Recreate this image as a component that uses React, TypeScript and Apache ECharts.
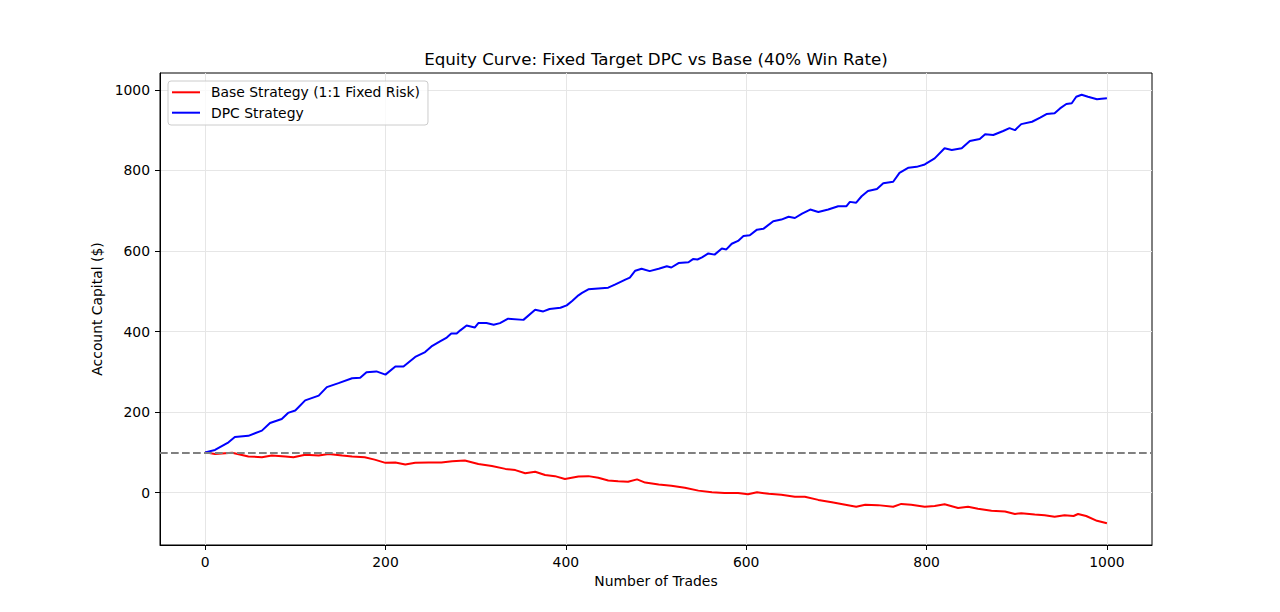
import React, { useEffect, useRef } from "react";
import * as echarts from "echarts";

const chartTitle = "Equity Curve: Fixed Target DPC vs Base (40% Win Rate)";
const xAxisTitle = "Number of Trades";
const yAxisTitle = "Account Capital ($)";
const baseName = "Base Strategy (1:1 Fixed Risk)";
const dpcName = "DPC Strategy";

const xTicks = [0, 200, 400, 600, 800, 1000];
const yTicks = [0, 200, 400, 600, 800, 1000];
const startingCapital = 100;

const baseTrades = [
  0, 11, 30, 48, 63, 74, 89, 98, 111, 126, 137, 152, 163, 177, 188, 200, 211, 222, 233, 248,
  262, 274, 288, 303, 318, 333, 344, 355, 366, 377, 388, 399, 414, 425, 436, 447, 458, 469, 479, 488,
  503, 517, 532, 547, 562, 576, 591, 602, 612, 625, 639, 654, 665, 680, 695, 710, 722, 732, 746, 763,
  772, 783, 798, 809, 820, 835, 846, 857, 872, 887, 898, 905, 920, 931, 942, 953, 963, 968, 977, 989,
  1000,
];
const baseValues = [
  100, 96, 99, 90, 88, 92, 90, 88, 94, 92, 96, 92, 90, 88, 82, 74, 75, 70, 74, 75,
  75, 78, 80, 71, 66, 59, 56, 48, 52, 44, 41, 34, 40, 41, 37, 30, 28, 27, 33, 25,
  20, 17, 12, 5, 1, -1, -1, -4, 1, -3, -5, -10, -10, -18, -24, -30, -35, -30, -31, -35,
  -28, -30, -35, -33, -29, -38, -35, -40, -45, -47, -53, -51, -54, -56, -60, -56, -58, -53, -58, -70,
  -76,
];

const dpcTrades = [
  0, 11, 26, 33, 48, 63, 72, 85, 92, 100, 111, 126, 135, 148, 163, 172, 179, 190, 200, 211,
  220, 233, 244, 251, 261, 268, 273, 279, 283, 290, 299, 303, 312, 320, 327, 336, 353, 366, 375, 382,
  394, 401, 407, 414, 418, 425, 436, 447, 455, 466, 471, 477, 484, 493, 503, 512, 517, 525, 536, 541,
  546, 551, 558, 565, 573, 578, 584, 591, 597, 604, 612, 619, 630, 639, 647, 654, 662, 671, 680, 691,
  702, 711, 715, 722, 728, 735, 745, 752, 763, 770, 780, 789, 798, 809, 820, 828, 839, 848, 859, 865,
  874, 885, 892, 898, 905, 917, 926, 933, 942, 948, 955, 961, 966, 972, 979, 989, 994, 1000,
];
const dpcValues = [
  100, 106, 125, 138, 141, 154, 173, 183, 198, 204, 229, 241, 262, 272, 284, 285, 299, 301, 293, 313,
  313, 337, 349, 363, 376, 385, 395, 395, 403, 415, 410, 421, 421, 417, 421, 432, 429, 454, 450, 456,
  459, 465, 476, 490, 496, 505, 507, 509, 517, 529, 534, 551, 556, 550, 556, 562, 559, 570, 572, 580,
  579, 584, 594, 591, 606, 604, 618, 625, 637, 639, 653, 655, 674, 678, 685, 682, 693, 703, 697, 703,
  711, 711, 722, 720, 736, 749, 754, 768, 772, 794, 807, 809, 815, 830, 855, 851, 855, 873, 878, 890,
  888, 898, 905, 900, 915, 921, 931, 940, 942, 954, 965, 967, 983, 988, 983, 977, 978, 979,
];

const FONT = "DejaVu Sans";
const LINE_ICON = "path://M0,0 L28,0 L28,2 L0,2 Z";

export default function App() {
  const ref = useRef<HTMLDivElement>(null);

  useEffect(() => {
    document.body.style.margin = "0";
    const chart = echarts.init(ref.current as HTMLDivElement, null, { renderer: "svg" });

    const basePairs = baseTrades.map((t, i) => [t, baseValues[i]]);
    const dpcPairs = dpcTrades.map((t, i) => [t, dpcValues[i]]);

    const axisCommon = {
      type: "value" as const,
      axisLine: { show: true, onZero: false, lineStyle: { color: "#000", width: 1 } },
      nameLocation: "middle" as const,
      nameTextStyle: { color: "#000", fontSize: 13.9, fontFamily: FONT },
    };

    const labelCommon = {
      color: "#000",
      fontSize: 13.9,
      fontFamily: FONT,
      margin: 10,
      formatter: (v: number) => String(v),
    };

    chart.setOption({
      animation: false,
      backgroundColor: "#ffffff",
      textStyle: { fontFamily: FONT },
      title: {
        text: chartTitle,
        left: 656,
        top: 50.5,
        textAlign: "center",
        padding: 0,
        textStyle: { fontSize: 16.7, fontWeight: "normal", color: "#000", fontFamily: FONT },
      },
      grid: {
        left: 160,
        top: 73,
        width: 992,
        height: 472,
        show: true,
        borderColor: "#000",
        borderWidth: 1,
        backgroundColor: "transparent",
        containLabel: false,
      },
      legend: {
        orient: "vertical",
        left: 168,
        top: 81,
        padding: [4.3, 8, 5.3, 4],
        itemWidth: 28,
        itemHeight: 14,
        itemGap: 6.4,
        borderColor: "#cccccc",
        borderWidth: 1,
        borderRadius: 3,
        backgroundColor: "rgba(255,255,255,0.8)",
        textStyle: { fontSize: 13.9, color: "#000", fontFamily: FONT, padding: [0, 0, 0, 6] },
        data: [
          { name: baseName, icon: LINE_ICON, itemStyle: { color: "#ff0000" } },
          { name: dpcName, icon: LINE_ICON, itemStyle: { color: "#0000ff" } },
        ],
      },
      xAxis: {
        ...axisCommon,
        min: -50,
        max: 1050,
        name: xAxisTitle,
        nameGap: 28,
        axisTick: {
          show: true,
          customValues: xTicks,
          length: 5,
          lineStyle: { color: "#000", width: 1 },
        },
        axisLabel: { ...labelCommon, customValues: xTicks },
        splitLine: { show: true, lineStyle: { color: "#e6e6e6", width: 1 } },
      },
      yAxis: {
        ...axisCommon,
        min: -130,
        max: 1042,
        name: yAxisTitle,
        nameGap: 40,
        axisTick: {
          show: true,
          customValues: yTicks,
          length: 5,
          lineStyle: { color: "#000", width: 1 },
        },
        axisLabel: { ...labelCommon, customValues: yTicks },
        splitLine: { show: true, lineStyle: { color: "#e6e6e6", width: 1 } },
      },
      series: [
        {
          name: baseName,
          type: "line",
          data: basePairs,
          symbol: "none",
          showSymbol: false,
          lineStyle: { color: "#ff0000", width: 2 },
          itemStyle: { color: "#ff0000" },
          z: 3,
          markLine: {
            silent: true,
            symbol: "none",
            label: { show: false },
            lineStyle: { color: "#808080", width: 2, type: [7.7, 3.3] },
            data: [{ yAxis: startingCapital }],
          },
        },
        {
          name: dpcName,
          type: "line",
          data: dpcPairs,
          symbol: "none",
          showSymbol: false,
          lineStyle: { color: "#0000ff", width: 2 },
          itemStyle: { color: "#0000ff" },
          z: 4,
        },
      ],
    });

    return () => chart.dispose();
  }, []);

  return <div ref={ref} style={{ width: 1280, height: 612 }} />;
}
